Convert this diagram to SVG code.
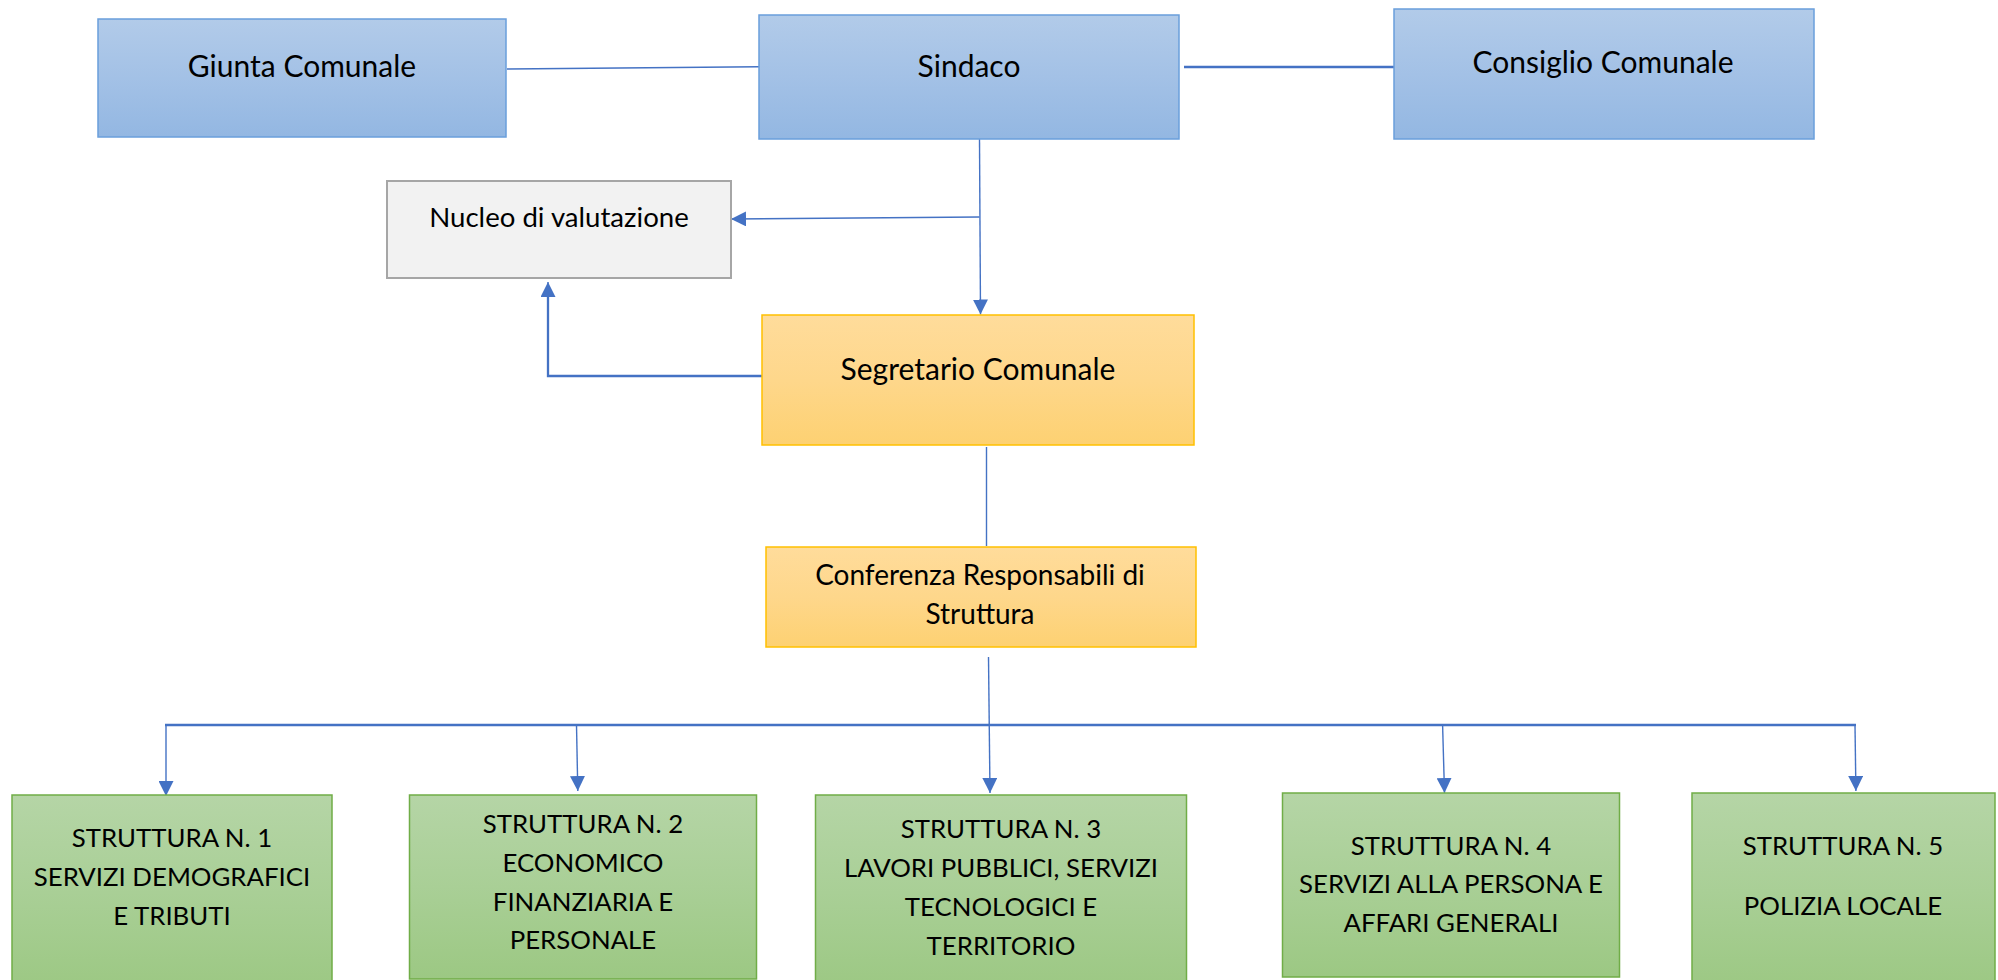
<svg xmlns="http://www.w3.org/2000/svg" width="1998" height="980" viewBox="0 0 1998 980">
<defs>
<linearGradient id="gBlue" x1="0" y1="0" x2="0" y2="1"><stop offset="0" stop-color="#b2cbe9"/><stop offset="0.5" stop-color="#a3c1e6"/><stop offset="1" stop-color="#93b7e2"/></linearGradient>
<linearGradient id="gGold" x1="0" y1="0" x2="0" y2="1"><stop offset="0" stop-color="#ffdc9b"/><stop offset="0.5" stop-color="#fed78b"/><stop offset="1" stop-color="#fdd172"/></linearGradient>
<linearGradient id="gGreen" x1="0" y1="0" x2="0" y2="1"><stop offset="0" stop-color="#b5d5a6"/><stop offset="0.5" stop-color="#a9cf96"/><stop offset="1" stop-color="#9cc883"/></linearGradient>
<marker id="arr" markerUnits="userSpaceOnUse" markerWidth="15" markerHeight="15" refX="15" refY="7.5" orient="auto" viewBox="0 0 15 15"><path d="M0,0 L15,7.5 L0,15 z" fill="#4472c4"/></marker>
<style>
.blue{fill:url(#gBlue);stroke:#6a9fdb;stroke-width:1.5}
.gold{fill:url(#gGold);stroke:#ffc000;stroke-width:1.5}
.green{fill:url(#gGreen);stroke:#70ad47;stroke-width:1.5}
.gray{fill:#f2f2f2;stroke:#a6a6a6;stroke-width:2}
text{font-family:Lato,"Liberation Sans",sans-serif;fill:#000;text-anchor:middle}
.t30{font-size:30px}
.t28{font-size:28px}
.t27{font-size:27.6px}
.t26{font-size:25.8px}
.c{fill:none;stroke:#4472c4;stroke-width:1.4}
.c2{fill:none;stroke:#4472c4;stroke-width:2.3}
</style>
</defs>
<g id="connectors">
<line class="c" x1="507" y1="69" x2="759" y2="66.7"/>
<line class="c2" x1="1184" y1="67" x2="1394" y2="67"/>
<line class="c" x1="979.5" y1="139" x2="980.5" y2="314.5" marker-end="url(#arr)"/>
<line class="c" x1="979.5" y1="217" x2="731" y2="219" marker-end="url(#arr)"/>
<polyline class="c2" points="762,376 548,376 548,297"/>
<line class="c" x1="548" y1="298" x2="548" y2="282" marker-end="url(#arr)"/>
<line class="c" x1="986.5" y1="447" x2="986.5" y2="546"/>
<line class="c" x1="988.5" y1="657" x2="990" y2="793" marker-end="url(#arr)"/>
<line class="c2" x1="165" y1="725" x2="1856" y2="725"/>
<line class="c" x1="166" y1="725" x2="166" y2="796" marker-end="url(#arr)"/>
<line class="c" x1="576.5" y1="725" x2="577.8" y2="791" marker-end="url(#arr)"/>
<line class="c" x1="1442.6" y1="725" x2="1444.5" y2="793" marker-end="url(#arr)"/>
<line class="c" x1="1855" y1="725" x2="1855.9" y2="791" marker-end="url(#arr)"/>
</g>
<g id="giunta"><rect class="blue" x="98" y="19" width="408" height="118"/><text class="t30" x="302" y="77">Giunta Comunale</text></g>
<g id="sindaco"><rect class="blue" x="759" y="15" width="420" height="124"/><text class="t30" x="969" y="77">Sindaco</text></g>
<g id="consiglio"><rect class="blue" x="1394" y="9" width="420" height="130"/><text class="t30" x="1603" y="73">Consiglio Comunale</text></g>
<g id="nucleo"><rect class="gray" x="387" y="181" width="344" height="97"/><text class="t27" x="559" y="227">Nucleo di valutazione</text></g>
<g id="segretario"><rect class="gold" x="762" y="315" width="432" height="130"/><text class="t30" x="978" y="380">Segretario Comunale</text></g>
<g id="conferenza"><rect class="gold" x="766" y="547" width="430" height="100"/><text class="t28" x="980" y="585">Conferenza Responsabili di</text><text class="t28" x="980" y="624">Struttura</text></g>
<g id="struttura1"><rect class="green" x="12" y="795" width="320" height="195"/><text class="t26" x="172" y="847">STRUTTURA N. 1</text><text class="t26" x="172" y="886">SERVIZI DEMOGRAFICI</text><text class="t26" x="172" y="925">E TRIBUTI</text></g>
<g id="struttura2"><rect class="green" x="409.5" y="795" width="347" height="184"/><text class="t26" x="583" y="833">STRUTTURA N. 2</text><text class="t26" x="583" y="872">ECONOMICO</text><text class="t26" x="583" y="911">FINANZIARIA E</text><text class="t26" x="583" y="949">PERSONALE</text></g>
<g id="struttura3"><rect class="green" x="815.5" y="795" width="371" height="195"/><text class="t26" x="1001" y="838">STRUTTURA N. 3</text><text class="t26" x="1001" y="877">LAVORI PUBBLICI, SERVIZI</text><text class="t26" x="1001" y="916">TECNOLOGICI E</text><text class="t26" x="1001" y="955">TERRITORIO</text></g>
<g id="struttura4"><rect class="green" x="1282.5" y="793" width="337" height="184"/><text class="t26" x="1451" y="855">STRUTTURA N. 4</text><text class="t26" x="1451" y="893">SERVIZI ALLA PERSONA E</text><text class="t26" x="1451" y="932">AFFARI GENERALI</text></g>
<g id="struttura5"><rect class="green" x="1692" y="793" width="303" height="197"/><text class="t26" x="1843" y="855">STRUTTURA N. 5</text><text class="t26" x="1843" y="915">POLIZIA LOCALE</text></g>
</svg>
